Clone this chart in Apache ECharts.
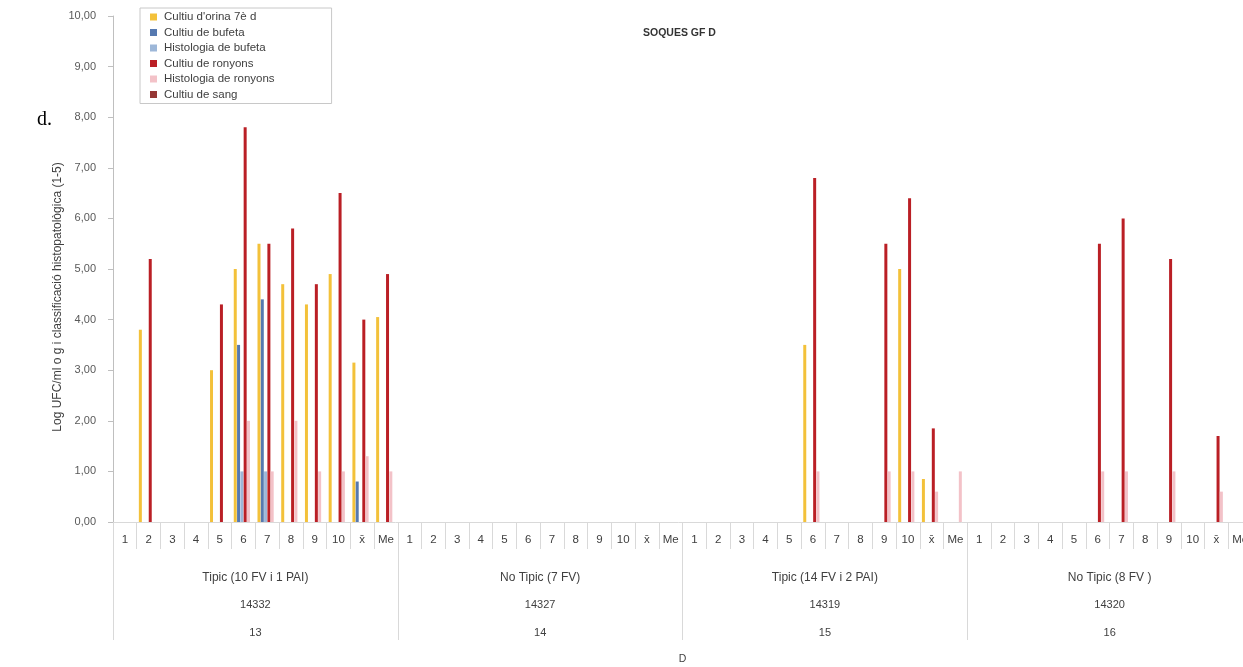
<!DOCTYPE html>
<html>
<head>
<meta charset="utf-8">
<script src="https://cdn.jsdelivr.net/npm/echarts@6/dist/echarts.min.js"></script>
<style>
  html, body { margin: 0; padding: 0; background: #fff; }
  #chart { width: 1243px; height: 667px; }
</style>
</head>
<body>
<div id="chart"></div>
<script>
// Sub-categories within each strain group: isolates 1-10, mean and median
const subLabels = ['1', '2', '3', '4', '5', '6', '7', '8', '9', '10', 'x\u0304', 'Me'];

// Strain groups (phenotype / strain id / order)
const groupNames = ['Tipic (10 FV i 1 PAI)', 'No Tipic (7 FV)', 'Tipic (14 FV i 2 PAI)', 'No Tipic (8 FV )'];
const strainIds = ['14332', '14327', '14319', '14320'];
const groupNumbers = ['13', '14', '15', '16'];

const seriesNames = [
  "Cultiu d'orina 7è d",
  'Cultiu de bufeta',
  'Histologia de bufeta',
  'Cultiu de ronyons',
  'Histologia de ronyons',
  'Cultiu de sang'
];

// Values per series, 12 per group, groups in order 13, 14, 15, 16
const cultiuOrina = [
  0, 3.8, 0, 0, 3.0, 5.0, 5.5, 4.7, 4.3, 4.9, 3.15, 4.05,
  0, 0, 0, 0, 0, 0, 0, 0, 0, 0, 0, 0,
  0, 0, 0, 0, 0, 3.5, 0, 0, 0, 5.0, 0.85, 0,
  0, 0, 0, 0, 0, 0, 0, 0, 0, 0, 0, 0
];
const cultiuBufeta = [
  0, 0, 0, 0, 0, 3.5, 4.4, 0, 0, 0, 0.8, 0,
  0, 0, 0, 0, 0, 0, 0, 0, 0, 0, 0, 0,
  0, 0, 0, 0, 0, 0, 0, 0, 0, 0, 0, 0,
  0, 0, 0, 0, 0, 0, 0, 0, 0, 0, 0, 0
];
const histoBufeta = [
  0, 0, 0, 0, 0, 1.0, 1.0, 0, 0, 0, 0, 0,
  0, 0, 0, 0, 0, 0, 0, 0, 0, 0, 0, 0,
  0, 0, 0, 0, 0, 0, 0, 0, 0, 0, 0, 0,
  0, 0, 0, 0, 0, 0, 0, 0, 0, 0, 0, 0
];
const cultiuRonyons = [
  0, 5.2, 0, 0, 4.3, 7.8, 5.5, 5.8, 4.7, 6.5, 4.0, 4.9,
  0, 0, 0, 0, 0, 0, 0, 0, 0, 0, 0, 0,
  0, 0, 0, 0, 0, 6.8, 0, 0, 5.5, 6.4, 1.85, 0,
  0, 0, 0, 0, 0, 5.5, 6.0, 0, 5.2, 0, 1.7, 0
];
const histoRonyons = [
  0, 0, 0, 0, 0, 2.0, 1.0, 2.0, 1.0, 1.0, 1.3, 1.0,
  0, 0, 0, 0, 0, 0, 0, 0, 0, 0, 0, 0,
  0, 0, 0, 0, 0, 1.0, 0, 0, 1.0, 1.0, 0.6, 1.0,
  0, 0, 0, 0, 0, 1.0, 1.0, 0, 1.0, 0, 0.6, 1.0
];
const cultiuSang = [
  0, 0, 0, 0, 0, 0, 0, 0, 0, 0, 0, 0,
  0, 0, 0, 0, 0, 0, 0, 0, 0, 0, 0, 0,
  0, 0, 0, 0, 0, 0, 0, 0, 0, 0, 0, 0,
  0, 0, 0, 0, 0, 0, 0, 0, 0, 0, 0, 0
];

const yTicks = { min: 0, max: 10, interval: 1 };

const seriesData = [cultiuOrina, cultiuBufeta, histoBufeta, cultiuRonyons, histoRonyons, cultiuSang];
const seriesColors = ['#F3C13A', '#5679B0', '#9DB7D8', '#BA1F25', '#F3C2C8', '#953735'];

const FONT = 'Liberation Sans';
const categories = [];
groupNames.forEach(() => subLabels.forEach(s => categories.push(s)));
const groupLabels = groupNames.map((g, i) => '{n|' + g + '}\n{d|' + strainIds[i] + '}\n{d|' + groupNumbers[i] + '}');

const chart = echarts.init(document.getElementById('chart'), null, { renderer: 'canvas' });

chart.setOption({
  animation: false,
  backgroundColor: '#ffffff',
  textStyle: { fontFamily: FONT },
  // plot area runs a little past the right edge of the canvas
  grid: { left: 113, right: -9, top: 16, bottom: 145, containLabel: false, outerBoundsMode: 'none' },
  title: {
    text: 'SOQUES GF D',
    left: 638, top: 23,
    textStyle: { fontFamily: FONT, fontSize: 10.5, fontWeight: 'bold', color: '#333333' }
  },
  legend: {
    orient: 'vertical',
    left: 140, top: 8,
    padding: [3, 57, 3, 10],
    itemGap: 3.5,
    itemWidth: 7, itemHeight: 7,
    icon: 'rect',
    borderColor: '#c8c8c8', borderWidth: 1,
    textStyle: { fontFamily: FONT, fontSize: 11.5, color: '#404040', lineHeight: 12, padding: [0, 0, 0, 2] },
    data: seriesNames
  },
  xAxis: [
    {
      type: 'category',
      data: categories,
      position: 'bottom',
      axisLine: { show: true, lineStyle: { color: '#d9d9d9', width: 1 } },
      axisTick: { show: true, interval: 0, length: 27, lineStyle: { color: '#d9d9d9' } },
      axisLabel: { interval: 0, margin: 12, fontSize: 11.5, color: '#404040', fontFamily: FONT },
      splitLine: { show: false }
    },
    {
      type: 'category',
      data: groupLabels,
      position: 'bottom',
      offset: 0,
      axisLine: { show: false },
      axisTick: { show: true, interval: 0, length: 118, lineStyle: { color: '#d9d9d9' } },
      axisLabel: {
        interval: 0, margin: 42, color: '#404040', fontFamily: FONT,
        rich: {
          n: { fontSize: 12, lineHeight: 27.5, fontFamily: FONT, color: '#404040' },
          d: { fontSize: 11, lineHeight: 27.5, fontFamily: FONT, color: '#404040' }
        }
      },
      splitLine: { show: false },
      name: 'D',
      nameLocation: 'middle',
      nameGap: 132,
      nameTextStyle: { fontSize: 10.5, color: '#404040', fontFamily: FONT }
    }
  ],
  yAxis: {
    type: 'value',
    min: yTicks.min, max: yTicks.max, interval: yTicks.interval,
    axisLine: { show: true, lineStyle: { color: '#bfbfbf' } },
    axisTick: { show: true, length: 5, lineStyle: { color: '#bfbfbf' } },
    splitLine: { show: false },
    axisLabel: {
      margin: 17, fontSize: 11, color: '#595959', fontFamily: FONT,
      formatter: v => v.toFixed(2).replace('.', ',')
    }
  },
  graphic: [
    {
      type: 'text',
      x: 58, y: 297,
      rotation: Math.PI / 2,
      style: {
        text: 'Log UFC/ml o g i classificació histopatològica (1-5)',
        fontFamily: FONT, fontSize: 12, fill: '#404040',
        align: 'center', verticalAlign: 'middle'
      }
    },
    {
      type: 'text',
      x: 37, y: 120,
      style: {
        text: 'd.',
        fontFamily: 'Liberation Serif', fontSize: 20, fill: '#000000',
        align: 'left', verticalAlign: 'middle'
      }
    }
  ],
  series: seriesNames.map((name, i) => ({
    name,
    type: 'bar',
    xAxisIndex: 0,
    data: seriesData[i],
    barWidth: 3,
    barGap: '10%',
    itemStyle: { color: seriesColors[i] }
  }))
});
</script>
</body>
</html>
